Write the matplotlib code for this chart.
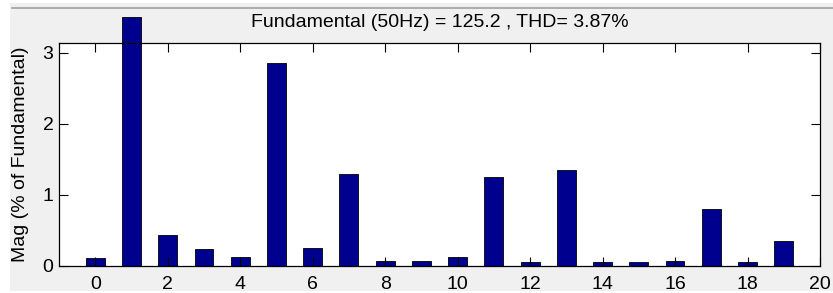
import matplotlib
matplotlib.use("Agg")
import matplotlib.pyplot as plt
from matplotlib.patches import Rectangle
from matplotlib.lines import Line2D

harmonics = list(range(20))
magnitudes = [0.11, 3.50, 0.44, 0.24, 0.13, 2.86, 0.26, 1.29, 0.07, 0.07,
              0.13, 1.25, 0.05, 1.35, 0.05, 0.05, 0.07, 0.80, 0.05, 0.35]
xticks = list(range(0, 21, 2))
yticks = [0, 1, 2, 3]
title = "Fundamental (50Hz) = 125.2 , THD= 3.87%"
ylabel = "Mag (% of Fundamental)"

plt.rcParams['font.family'] = ['Liberation Sans', 'DejaVu Sans']
W, H = 833, 293
fig = plt.figure(figsize=(W / 100, H / 100), dpi=100, facecolor='white')

# gray window background
fig.patches.append(Rectangle((10 / W, (H - 291) / H), (W - 10) / W, (291 - 3) / H,
                             transform=fig.transFigure, facecolor='#f0f0f0',
                             edgecolor='none', zorder=-2))
fig.lines.append(Line2D([12 / W, 1], [(H - 7.5) / H] * 2, transform=fig.transFigure,
                        color='#a0a0a0', lw=1.2, zorder=-1))

left, right, top, bottom = 59, 820, 43.3, 266
ax = fig.add_axes([left / W, (H - bottom) / H, (right - left) / W, (bottom - top) / H])
ax.set_zorder(5)
ax.set_facecolor('white')

bars = ax.bar(harmonics, magnitudes, width=0.52, color='#00008f',
              edgecolor='black', linewidth=0.6)
for b in bars:
    b.set_clip_on(False)

ax.set_xlim(-1, 20)
ax.set_ylim(0, 3.13)
ax.set_xticks(xticks)
ax.set_yticks(yticks)
ax.tick_params(direction='in', length=6.5, width=0.8, top=True, right=True,
               labelsize=14, pad=4, color='black')
ax.tick_params(axis='x', pad=7.5)
for s in ax.spines.values():
    s.set_linewidth(0.9)
    s.set_color('black')

ax.set_ylabel(ylabel, fontsize=14)
ax.yaxis.set_label_coords(-0.039, 0.5)
ax.text(0.5, 1.073, title, transform=ax.transAxes, ha='center', va='baseline',
        fontsize=14)

fig.savefig('out.png', dpi=100, facecolor='white')
